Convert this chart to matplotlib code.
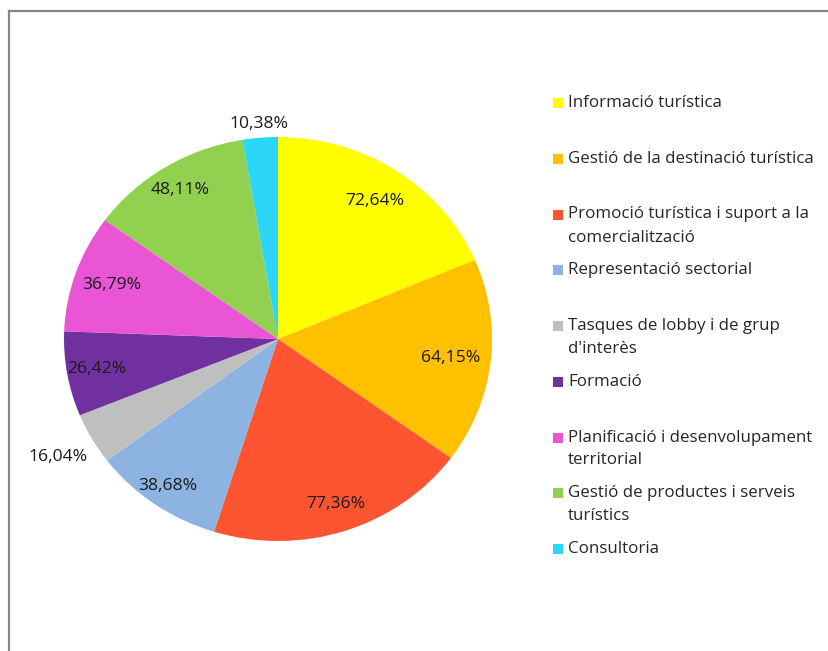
import numpy as np
import matplotlib
matplotlib.use("Agg")
import matplotlib.pyplot as plt
from matplotlib.patches import Rectangle
from matplotlib.lines import Line2D

plt.rcParams['font.family'] = ['Open Sans', 'DejaVu Sans']

categories = [
    "Informació turística",
    "Gestió de la destinació turística",
    "Promoció turística i suport a la\ncomercialització",
    "Representació sectorial",
    "Tasques de lobby i de grup\nd'interès",
    "Formació",
    "Planificació i desenvolupament\nterritorial",
    "Gestió de productes i serveis\nturístics",
    "Consultoria",
]
values = [72.64, 64.15, 77.36, 38.68, 16.04, 26.42, 36.79, 48.11, 10.38]
colors = ["#FFFF00", "#FFC000", "#FD5531", "#8DB3E2", "#BFBFBF",
          "#7030A0", "#EA55D6", "#92D050", "#2CD6F6"]
# radial position of each value label (fraction of the radius)
label_radius = [0.82, 0.81, 0.86, 0.89, 1.18, 0.86, 0.82, 0.87, 1.07]

W, H = 829, 651
fig = plt.figure(figsize=(W / 100, H / 100), dpi=100)

# chart frame (left and top edges)
fig.add_artist(Line2D([9.5 / W, 9.5 / W], [0, 1 - 11 / H], color="#878787", lw=1.6,
                      transform=fig.transFigure))
fig.add_artist(Line2D([9.5 / W, 1], [1 - 11 / H, 1 - 11 / H], color="#878787", lw=1.6,
                      transform=fig.transFigure))

# pie area in pixel coordinates: x 64..492, y 137..541 (from top)
left, right, top, bottom = 64, 492, 137, 541
ax = fig.add_axes([left / W, 1 - bottom / H, (right - left) / W, (bottom - top) / H])
wedges, _ = ax.pie(values, colors=colors, startangle=90, counterclock=False,
                   radius=1.0, wedgeprops=dict(linewidth=0))
ax.set_aspect('auto')
ax.set_xlim(-1, 1)
ax.set_ylim(-1, 1)
ax.axis('off')

total = sum(values)
angle = 90.0
for v, r in zip(values, label_radius):
    span = v / total * 360.0
    mid = np.deg2rad(angle - span / 2)
    angle -= span
    ax.text(r * np.cos(mid), r * np.sin(mid), f"{v:.2f}%".replace(".", ","),
            ha="center", va="center", fontsize=12.6, color="#1a1a1a")

# legend
y0, step, line_gap = 103, 55.75, 23
for i, (cat, c) in enumerate(zip(categories, colors)):
    y = y0 + i * step
    fig.add_artist(Rectangle((553 / W, 1 - (y + 5) / H), 10 / W, 10 / H,
                             facecolor=c, edgecolor="none", transform=fig.transFigure))
    for j, line in enumerate(cat.split("\n")):
        fig.text(568 / W, 1 - (y + j * line_gap) / H, line, ha="left", va="center",
                 fontsize=12.2, color="#262626")

fig.savefig("out.png", dpi=100, facecolor="white")
